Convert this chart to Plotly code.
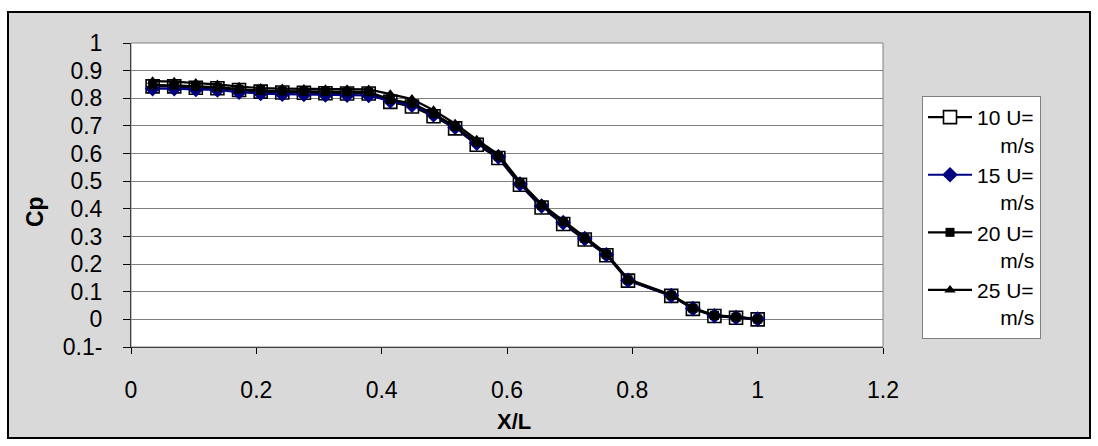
import plotly.graph_objects as go

# ---------------- data ----------------
x_over_L = [0.0345, 0.0690, 0.1034, 0.1379, 0.1724, 0.2069, 0.2414, 0.2759, 0.3103, 0.3448,
            0.3793, 0.4138, 0.4483, 0.4828, 0.5172, 0.5517, 0.5862, 0.6207, 0.6552, 0.6897,
            0.7241, 0.7586, 0.7931, 0.8621, 0.8966, 0.9310, 0.9655, 1.0000]

cp_10 = [0.843, 0.843, 0.838, 0.836, 0.830, 0.824, 0.821, 0.820, 0.818, 0.817,
         0.817, 0.787, 0.770, 0.735, 0.691, 0.632, 0.584, 0.487, 0.405, 0.345,
         0.289, 0.232, 0.140, 0.085, 0.038, 0.012, 0.006, 0.000]
cp_15 = [0.835, 0.835, 0.832, 0.830, 0.822, 0.817, 0.815, 0.814, 0.812, 0.811,
         0.810, 0.790, 0.775, 0.740, 0.695, 0.637, 0.588, 0.490, 0.410, 0.350,
         0.292, 0.234, 0.141, 0.086, 0.039, 0.013, 0.007, 0.001]
cp_20 = [0.848, 0.847, 0.843, 0.840, 0.833, 0.828, 0.826, 0.825, 0.824, 0.823,
         0.823, 0.795, 0.782, 0.744, 0.698, 0.641, 0.590, 0.494, 0.413, 0.353,
         0.294, 0.236, 0.143, 0.087, 0.040, 0.014, 0.008, 0.001]
cp_25 = [0.862, 0.860, 0.855, 0.850, 0.842, 0.837, 0.835, 0.834, 0.833, 0.833,
         0.832, 0.815, 0.797, 0.757, 0.708, 0.650, 0.597, 0.498, 0.417, 0.357,
         0.297, 0.239, 0.146, 0.089, 0.042, 0.015, 0.009, 0.002]

series_names = ["10 U=", "15 U=", "20 U=", "25 U="]
unit_label = "m/s"

y_tick_vals = [-0.1, 0, 0.1, 0.2, 0.3, 0.4, 0.5, 0.6, 0.7, 0.8, 0.9, 1]
y_tick_text = ["0.1-", "0", "0.1", "0.2", "0.3", "0.4", "0.5", "0.6", "0.7", "0.8", "0.9", "1"]
x_tick_vals = [0, 0.2, 0.4, 0.6, 0.8, 1, 1.2]
x_tick_text = ["0", "0.2", "0.4", "0.6", "0.8", "1", "1.2"]

# ---------------- layout geometry (pixels) ----------------
W, H = 1098, 446
PL, PR, PT, PB = 131, 883, 43, 347   # plot area edges
FONT = "Liberation Sans, Arial, sans-serif"


def px_x(px):
    return (px - PL) / (PR - PL)


def px_y(py):
    return (PB - py) / (PB - PT)


nb = "\u00a0"
labels = [f"{n}<br>{nb*4}{unit_label}" for n in series_names]

fig = go.Figure()
fig.add_trace(go.Scatter(
    x=x_over_L, y=cp_10, name=labels[0], mode="lines+markers",
    line=dict(color="black", width=2.2),
    marker=dict(symbol="square", size=13, color="white", line=dict(color="black", width=1.6)),
))
fig.add_trace(go.Scatter(
    x=x_over_L, y=cp_15, name=labels[1], mode="lines+markers",
    line=dict(color="#000080", width=2.2),
    marker=dict(symbol="diamond", size=12, color="#000080"),
))
fig.add_trace(go.Scatter(
    x=x_over_L, y=cp_20, name=labels[2], mode="lines+markers",
    line=dict(color="black", width=2.2),
    marker=dict(symbol="square", size=9, color="black"),
))
fig.add_trace(go.Scatter(
    x=x_over_L, y=cp_25, name=labels[3], mode="lines+markers",
    line=dict(color="black", width=2.2),
    marker=dict(symbol="triangle-up", size=10, color="black"),
))

shapes = [
    # grey chart area with black frame
    dict(type="rect", xref="paper", yref="paper", layer="below",
         x0=px_x(8), x1=px_x(1090), y0=px_y(438), y1=px_y(12),
         fillcolor="#d9d9d9", line=dict(color="black", width=2)),
    # white plot area
    dict(type="rect", xref="paper", yref="paper", layer="below",
         x0=0, x1=1, y0=0, y1=1, fillcolor="white", line=dict(width=0)),
    # grey plot-area border (top/right)
    dict(type="rect", xref="paper", yref="paper", layer="above",
         x0=0, x1=1, y0=0, y1=1, line=dict(color="#808080", width=1)),
]

fig.update_layout(
    width=W, height=H, autosize=False,
    margin=dict(l=PL, r=W - PR, t=PT, b=H - PB, pad=0),
    paper_bgcolor="white", plot_bgcolor="rgba(0,0,0,0)",
    font=dict(family=FONT, size=23, color="black"),
    shapes=shapes,
    showlegend=True,
    legend=dict(
        x=px_x(922), xanchor="left", y=px_y(96), yanchor="top",
        bgcolor="white", bordercolor="#808080", borderwidth=1,
        font=dict(family=FONT, size=21, color="black"),
        valign="top", traceorder="normal", itemwidth=44,
        tracegroupgap=0,
    ),
    annotations=[
        dict(text="<b>Cp</b>", xref="paper", yref="paper", x=px_x(35), y=px_y(212),
             showarrow=False, textangle=-90, font=dict(family=FONT, size=23, color="black"),
             xanchor="center", yanchor="middle"),
        dict(text="<b>X/L</b>", xref="paper", yref="paper", x=px_x(514), y=px_y(421),
             showarrow=False, font=dict(family=FONT, size=22, color="black"),
             xanchor="center", yanchor="middle"),
    ],
)

fig.update_xaxes(
    range=[0, 1.2], tickvals=x_tick_vals, ticktext=x_tick_text,
    showgrid=False, zeroline=False,
    showline=True, linecolor="black", linewidth=1,
    ticks="outside", ticklen=6, tickcolor="black", tickwidth=1,
    ticklabelstandoff=16,
)
fig.update_yaxes(
    range=[-0.1, 1.0], tickvals=y_tick_vals, ticktext=y_tick_text,
    showgrid=True, gridcolor="#808080", gridwidth=1, zeroline=False,
    showline=True, linecolor="black", linewidth=1,
    ticks="outside", ticklen=7, tickcolor="black", tickwidth=1,
    ticklabelstandoff=16,
)

fig.write_html("out.html")
